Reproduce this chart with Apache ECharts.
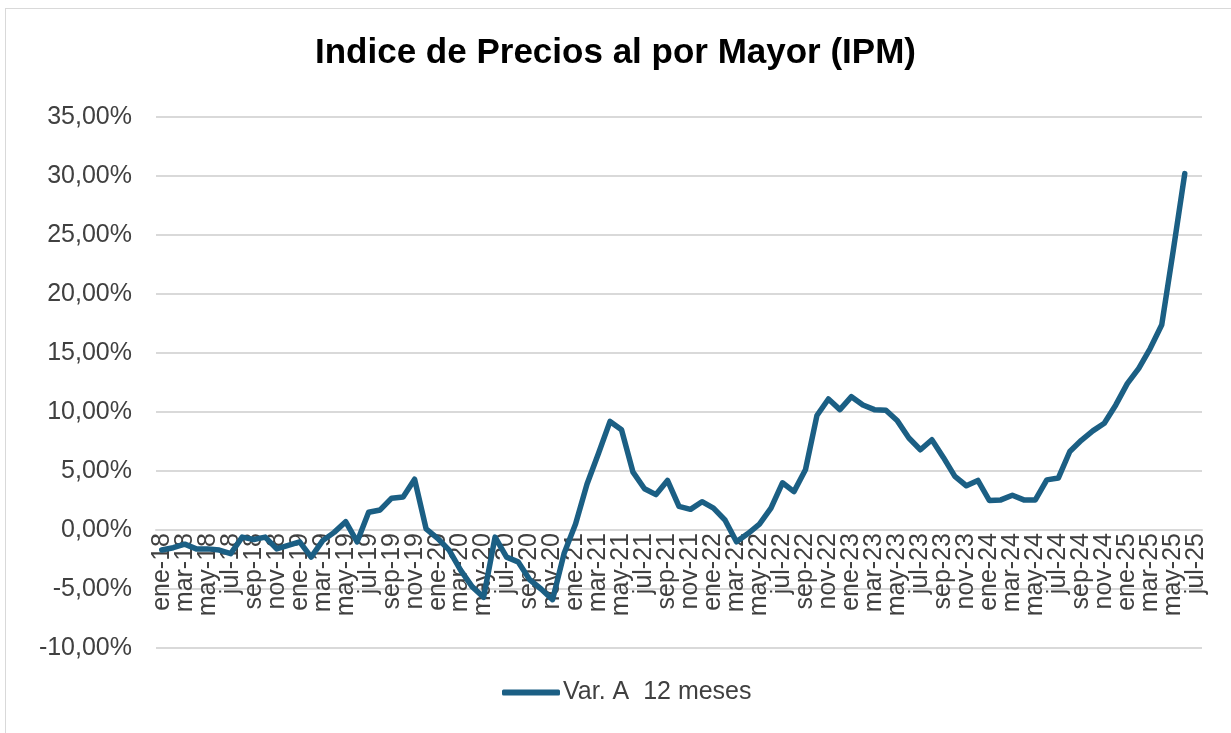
<!DOCTYPE html>
<html>
<head>
<meta charset="utf-8">
<script src="https://cdn.jsdelivr.net/npm/echarts@6/dist/echarts.min.js"></script>
<style>
  html, body { margin: 0; padding: 0; background: #fff; overflow: hidden; }
  #frame { position: absolute; left: 5px; top: 8px; width: 1300px; height: 800px; border: 1px solid #d9d9d9; }
  #main { position: absolute; left: 0; top: 0; width: 1231px; height: 733px; }
</style>
</head>
<body>
<div id="frame"></div>
<div id="main"></div>
<script>
// meses y años del eje
const meses = ['ene', 'feb', 'mar', 'abr', 'may', 'jun', 'jul', 'ago', 'sep', 'oct', 'nov', 'dic'];
const anios = ['18', '19', '20', '21', '22', '23', '24', '25'];
const mesesUltimoAnio = 7; // hasta jul-25

// Var. A 12 meses (%), ene-18 .. jul-25 (jul-25 sin dato)
const var12 = [
  -1.7, -1.5, -1.2, -1.6, -1.6, -1.7, -2.0, -0.6, -0.8, -0.6, -1.6, -1.3,
  -1.0, -2.3, -0.9, -0.2, 0.7, -1.0, 1.5, 1.7, 2.7, 2.8, 4.3, 0.1,
  -0.7, -1.7, -3.4, -4.8, -5.7, -0.6, -2.3, -2.7, -4.2, -5.0, -5.9, -2.0,
  0.5, 3.9, 6.5, 9.2, 8.5, 4.9, 3.5, 3.0, 4.2, 2.0, 1.75, 2.4,
  1.85, 0.85, -1.0, -0.3, 0.5, 1.85, 4.0, 3.25, 5.1, 9.7, 11.1, 10.2,
  11.3, 10.6, 10.2, 10.15, 9.25, 7.8, 6.8, 7.65, 6.15, 4.55, 3.75, 4.2,
  2.5, 2.55, 2.95, 2.55, 2.55, 4.25, 4.4, 6.65, 7.6, 8.4, 9.05, 10.6,
  12.4, 13.7, 15.4, 17.4, 23.7, 30.2, null
];

const yMin = -10;
const yMax = 35;
const yStep = 5;

const categorias = [];
anios.forEach((a, k) => {
  const n = k === anios.length - 1 ? mesesUltimoAnio : 12;
  for (let m = 0; m < n; m++) categorias.push(meses[m] + '-' + a);
});

const fuente = 'Liberation Sans, Arial, sans-serif';
const colorLinea = '#1b5f84';

// grilla
const gTop = 117;
const gBottom = 85;
const gAlto = 733 - gTop - gBottom;
// el eje de categorías cruza en 0%
const desplazamientoEje = -(0 - yMin) / (yMax - yMin) * gAlto;

var myChart = echarts.init(document.getElementById('main'));
myChart.setOption({
  animation: false,
  title: {
    text: 'Indice de Precios al por Mayor (IPM)',
    left: 'center',
    top: 31,
    textStyle: { fontFamily: fuente, fontSize: 35, fontWeight: 'bold', color: '#000' }
  },
  legend: {
    data: ['Var. A  12 meses'],
    left: 497,
    top: 675,
    icon: 'roundRect',
    itemWidth: 58,
    itemHeight: 6,
    itemGap: 10,
    textStyle: { fontFamily: fuente, fontSize: 25, color: '#404040', padding: [0, 0, 0, -2] }
  },
  grid: {
    left: 156,
    right: 29,
    top: gTop,
    bottom: gBottom,
    containLabel: false,
    outerBoundsMode: 'none'
  },
  xAxis: {
    type: 'category',
    boundaryGap: true,
    data: categorias,
    offset: desplazamientoEje,
    axisLine: { show: true, onZero: false, lineStyle: { color: '#d9d9d9', width: 2 } },
    axisTick: { show: false },
    axisLabel: {
      interval: 0,
      rotate: 90,
      margin: 3,
      hideOverlap: false,
      fontFamily: fuente,
      fontSize: 25,
      color: '#404040',
      // una etiqueta cada dos meses
      formatter: (v, i) => (i % 2 === 0 ? v : '')
    }
  },
  yAxis: {
    type: 'value',
    min: yMin,
    max: yMax,
    interval: yStep,
    axisLine: { show: false },
    axisTick: { show: false },
    splitLine: { lineStyle: { color: '#d9d9d9', width: 2 } },
    axisLabel: {
      margin: 24,
      fontFamily: fuente,
      fontSize: 25,
      color: '#404040',
      formatter: v => v.toFixed(2).replace('.', ',') + '%'
    }
  },
  series: [
    {
      name: 'Var. A  12 meses',
      type: 'line',
      data: var12,
      symbol: 'none',
      lineStyle: { width: 5.5, color: colorLinea, join: 'round', cap: 'round' },
      itemStyle: { color: colorLinea }
    }
  ]
});
</script>
</body>
</html>
